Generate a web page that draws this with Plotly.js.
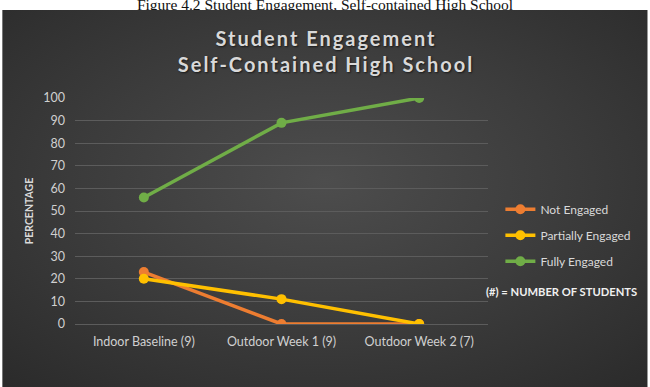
<!DOCTYPE html>
<html>
<head>
<meta charset="utf-8">
<script src="https://cdn.plot.ly/plotly-3.0.1.min.js"></script>
<style>
  html, body { margin:0; padding:0; background:#ffffff; width:650px; height:387px; overflow:hidden; }
  #caption { position:absolute; left:0; top:-4px; width:650px; text-align:center; font-family:"Liberation Serif", serif; font-size:15.5px; line-height:18px; color:#111; white-space:nowrap; z-index:0; }
  #chart { position:absolute; left:2px; top:10px; width:646px; height:380px; z-index:1;
    background: radial-gradient(ellipse 75% 75% at 50% 45%, #4d4d4d 0%, #3c3c3c 50%, #2a2a2a 100%);
    border-left:1px solid #777; border-right:1px solid #999; box-sizing:border-box; }
  #chart .gtitle { letter-spacing: 2px; text-shadow: 1px 1px 2px rgba(0,0,0,0.6); }
</style>
</head>
<body>
<div id="caption">Figure 4.2 Student Engagement, Self-contained High School</div>
<div id="chart"></div>
<script>
const categories = ["Indoor Baseline (9)", "Outdoor Week 1 (9)", "Outdoor Week 2 (7)"];
const notEngaged = [23, 0, 0];
const partiallyEngaged = [20, 11, 0];
const fullyEngaged = [56, 89, 100];
const seriesNames = ["Not Engaged", "Partially Engaged", "Fully Engaged"];
const seriesColors = ["#ED7D31", "#FFC000", "#70AD47"];
const yTicks = [0, 10, 20, 30, 40, 50, 60, 70, 80, 90, 100];

const seriesData = [notEngaged, partiallyEngaged, fullyEngaged];
const traces = seriesData.map((vals, i) => ({
  x: categories,
  y: vals,
  name: seriesNames[i],
  legendgroup: "g" + i,
  type: "scatter",
  mode: "lines+markers",
  line: { color: seriesColors[i], width: 3.5 },
  marker: { color: seriesColors[i], size: 10 }
}));

const font = "Lato, 'Open Sans', sans-serif";
const layout = {
  width: 646, height: 380,
  paper_bgcolor: "rgba(0,0,0,0)",
  plot_bgcolor: "rgba(0,0,0,0)",
  margin: { l: 72, r: 161, t: 88, b: 66 },
  title: {
    text: "<b>Student Engagement<br>Self-Contained High School</b>",
    font: { family: font, size: 20, color: "#d9d9d9" },
    x: 0.5, xanchor: "center", y: 0.905, yanchor: "top"
  },
  xaxis: {
    type: "category",
    range: [-0.5, 2.5],
    showgrid: false, zeroline: false, showline: false,
    ticks: "",
    ticklabelstandoff: 8,
    tickfont: { family: font, size: 12.5, color: "#d0d0d0" },
    fixedrange: true
  },
  yaxis: {
    range: [0, 100],
    tickvals: yTicks,
    ticktext: yTicks.map(String),
    showgrid: true, gridcolor: "#5c5c5c", gridwidth: 1,
    zeroline: true, zerolinecolor: "#5c5c5c", zerolinewidth: 1,
    showline: false, ticks: "",
    ticklabelstandoff: 9,
    tickfont: { family: font, size: 12.5, color: "#d0d0d0" },
    title: { text: "<b>PERCENTAGE</b>", font: { family: font, size: 10.5, color: "#d9d9d9" }, standoff: 7 },
    fixedrange: true
  },
  showlegend: true,
  legend: {
    x: 1.03, xanchor: "left", y: 0.572, yanchor: "top",
    bgcolor: "rgba(0,0,0,0)",
    font: { family: font, size: 12, color: "#d9d9d9" },
    itemwidth: 30, tracegroupgap: 7
  },
  annotations: [{
    text: "<b>(#) = NUMBER OF STUDENTS</b>",
    xref: "paper", yref: "paper",
    x: 1.179, xanchor: "center", y: 0.146, yanchor: "middle",
    showarrow: false,
    font: { family: font, size: 11.2, color: "#f0f0f0" }
  }]
};
Plotly.newPlot("chart", traces, layout, { displayModeBar: false, staticPlot: true });
</script>
</body>
</html>
